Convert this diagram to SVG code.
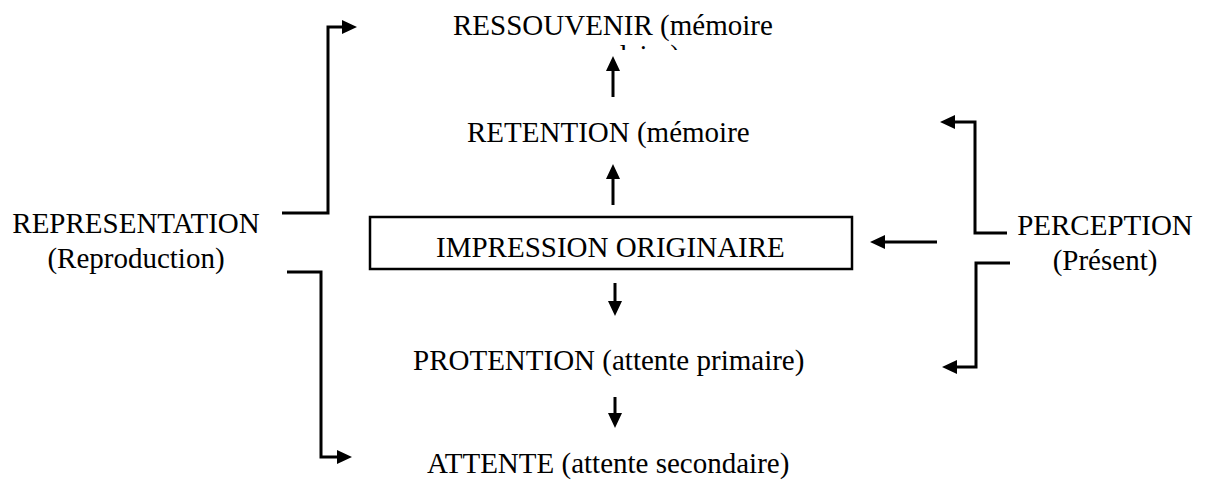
<svg xmlns="http://www.w3.org/2000/svg" width="1214" height="483" viewBox="0 0 1214 483">
  <style>
    text { font-family: "Liberation Serif", "Times New Roman", serif; font-size: 29px; fill: #000; }
    .conn { fill: none; stroke: #000; stroke-width: 3; stroke-linejoin: miter; marker-end: url(#arrow); }
    .frame { fill: #fff; stroke: #000; stroke-width: 2.5; }
  </style>
  <defs>
    <marker id="arrow" viewBox="0 0 15 15" markerWidth="15" markerHeight="15" refX="3" refY="7.5" orient="auto" markerUnits="userSpaceOnUse">
      <path d="M0,0.5 L15,7.5 L0,14.5 z" fill="#000"/>
    </marker>
    <!-- the wrapped second line of the top label only shows its upper edge -->
    <clipPath id="topClip">
      <rect x="0" y="0" width="1214" height="50"/>
    </clipPath>
  </defs>

  <rect width="1214" height="483" fill="#fff"/>

  <g id="connectors">
    <path class="conn" d="M282,213 H328 V27 H345"/>
    <path class="conn" d="M287,272 H321 V457 H340"/>
    <path class="conn" d="M613,97 V68"/>
    <path class="conn" d="M613,205 V176"/>
    <path class="conn" d="M615,283 V304"/>
    <path class="conn" d="M615,397 V416"/>
    <path class="conn" d="M937,242 H882"/>
    <path class="conn" d="M1007,233 H975 V122 H952"/>
    <path class="conn" d="M1010,263 H976 V367 H954"/>
  </g>

  <g id="ressouvenir">
    <text x="453" y="35">RESSOUVENIR (mémoire</text>
    <text x="613" y="65" text-anchor="middle" clip-path="url(#topClip)">secondaire)</text>
  </g>

  <g id="retention">
    <text x="467" y="142">RETENTION (mémoire</text>
  </g>

  <g id="impression">
    <rect class="frame" x="370" y="217" width="482" height="52"/>
    <text x="436" y="257">IMPRESSION ORIGINAIRE</text>
  </g>

  <g id="protention">
    <text x="413" y="370">PROTENTION (attente primaire)</text>
  </g>

  <g id="attente">
    <text x="427" y="473">ATTENTE (attente secondaire)</text>
  </g>

  <g id="representation">
    <text x="136" y="233" text-anchor="middle">REPRESENTATION</text>
    <text x="136" y="268" text-anchor="middle">(Reproduction)</text>
  </g>

  <g id="perception">
    <text x="1105" y="235" text-anchor="middle">PERCEPTION</text>
    <text x="1105" y="270" text-anchor="middle">(Présent)</text>
  </g>
</svg>
